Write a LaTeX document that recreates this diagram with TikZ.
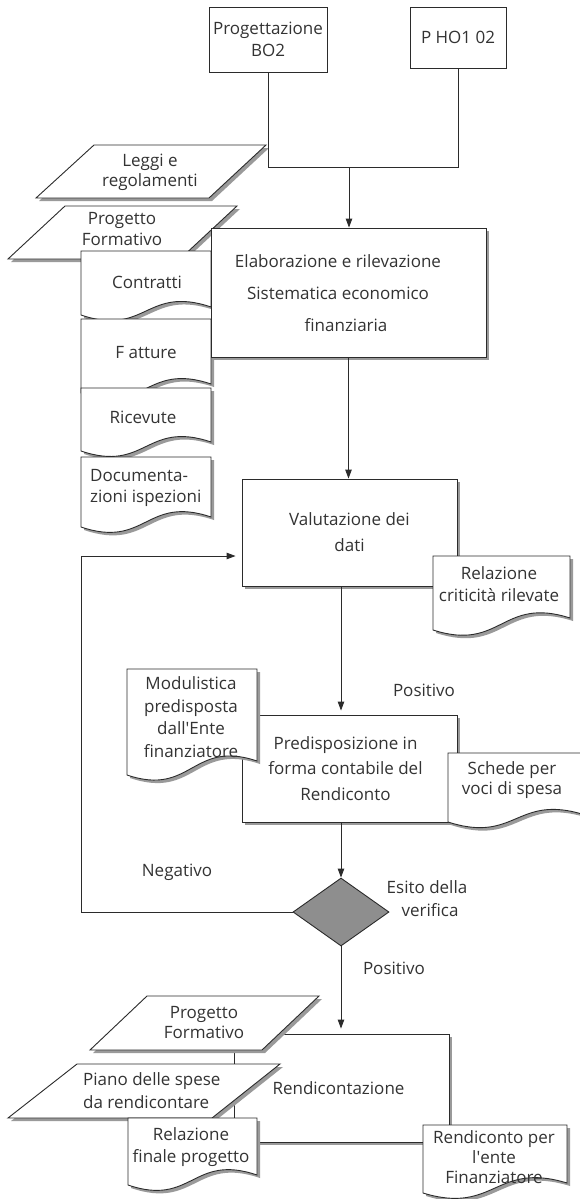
\documentclass[tikz,border=0pt]{standalone}
\usepackage{fontspec}
\setmainfont{Open Sans}
\usetikzlibrary{arrows.meta,shapes.geometric,shadows}
\definecolor{linec}{HTML}{2B2B2B}
\definecolor{txtc}{HTML}{333333}
\definecolor{shc}{HTML}{9A9A9A}
\definecolor{diac}{HTML}{8E8E8E}
\newcommand\lbf{\fontsize{17}{21}\selectfont}
\newcommand\docshape[5]{%
  \filldraw[docst] (#1,#3) -- (#2,#3) -- (#2,#5) .. controls ({(#1+#2)/2},{#5-22}) and ({(#1+#2)/2},{#4+22}) .. (#1,#4) -- cycle;}
\newcommand\parashape[6]{%
  \filldraw[docst] (#1,#3) -- (#2,#3) -- (#5,#6) -- (#4,#6) -- cycle;}
\tikzset{
  sh/.style={drop shadow={shadow xshift=3pt, shadow yshift=-3pt, opacity=1, fill=shc}},
  box/.style={rectangle, draw=linec, line width=0.9pt, fill=white, inner sep=0pt, text=txtc, align=center, font=\lbf},
  shbox/.style={box, sh},
  lbl/.style={text=txtc, align=center, inner sep=0pt, font=\lbf},
  docst/.style={draw=linec, line width=0.9pt, fill=white, sh},
  conn/.style={draw=linec, line width=0.9pt},
  arr/.style={conn, -{Triangle[length=9pt,width=6.5pt]}}
}
\begin{document}
\begin{tikzpicture}[x=1pt,y=-1pt]
\fill[white] (0,0) rectangle (579,1199);
\useasboundingbox (0,0) rectangle (579,1199);

% top boxes
\node[box, minimum width=118pt, minimum height=65pt, font=\fontsize{17}{22}\selectfont] (bo2) at (268,39.5) {Progettazione\\BO2};
\node[box, minimum width=96pt, minimum height=61pt] (pho) at (458,37.5) {P HO1 02};

% inputs to elaborazione
\parashape{94}{266}{145}{36}{209}{198}
\node[lbl, font=\fontsize{17}{20}\selectfont] (leggi) at (150,172) {Leggi e\\regolamenti};
\parashape{65}{237}{206}{8}{180}{259}
\node[lbl] (pf1) at (122,229.5) {Progetto\\Formativo};

\docshape{81}{211}{251}{315}{307}
\node[lbl] (contr) at (147,282) {Contratti};
\docshape{81}{211}{319}{393}{384}
\node[lbl] (fatt) at (146,353) {F atture};
\docshape{81}{211}{388}{451}{442}
\node[lbl] (ric) at (143,417) {Ricevute};
\docshape{81}{211}{457}{527}{517}
\node[lbl, align=left, anchor=west] (docisp) at (90,487.5) {Documenta-\\zioni ispezioni};

\node[shbox, minimum width=275pt, minimum height=129pt] (elab) at (348.5,292.5) {};
\node[lbl, font=\fontsize{17}{32}\selectfont] (elabt) at (338,293) {Elaborazione e rilevazione\\Sistematica economico\\\hspace*{16pt}finanziaria};

% valutazione
\node[shbox, minimum width=215pt, minimum height=107pt, font=\fontsize{17}{26}\selectfont] (val) at (349.5,532.5) {Valutazione dei\\dati};
\docshape{433}{570}{556}{630}{618}
\node[lbl, font=\fontsize{17}{22}\selectfont] (relcrit) at (499,584) {Relazione\\criticità rilevate};

% predisposizione
\node[shbox, minimum width=215pt, minimum height=107pt, font=\fontsize{17}{25.5}\selectfont] (pred) at (349.5,768.5) {\hspace*{-8pt}Predisposizione in\\\hspace*{-8pt}forma contabile del\\\hspace*{-8pt}Rendiconto};
\docshape{127}{257}{669}{775}{761}
\node[lbl, font=\fontsize{17}{22.6}\selectfont] (modul) at (191,717) {Modulistica\\predisposta\\dall\textquotesingle Ente\\finanziatore};
\docshape{448}{585}{753}{822}{815}
\node[lbl, font=\fontsize{17}{20}\selectfont] (schede) at (512,780) {Schede per\\voci di spesa};

% decision
\node[diamond, draw=linec, line width=0.9pt, fill=diac, minimum width=96pt, minimum height=68pt, inner sep=0pt] (dia) at (341,912) {};
\node[lbl] (pos1) at (424,690) {Positivo};
\node[lbl] (neg) at (177,872) {Negativo};
\node[lbl, font=\fontsize{17}{23}\selectfont] (esito) at (427,898.5) {Esito della\\\hspace*{6pt}verifica};
\node[lbl] (pos2) at (394,968) {Positivo};

% rendicontazione
\node[shbox, minimum width=215pt, minimum height=108pt] (rend) at (341.5,1088) {\hspace*{-6pt}Rendicontazione};
\parashape{147}{319}{996}{90}{262}{1050}
\node[lbl, font=\fontsize{17}{20}\selectfont] (pf2) at (204,1023) {Progetto\\Formativo};
\parashape{77}{280}{1064}{8}{212}{1118}
\node[lbl, align=left, anchor=west, font=\fontsize{17}{23}\selectfont] (piano) at (83,1090.5) {Piano delle spese\\da rendicontare};
\docshape{128}{257}{1118}{1185}{1175}
\node[lbl, font=\fontsize{17}{22}\selectfont] (relfin) at (191,1147) {Relazione\\finale progetto};
\docshape{423}{567}{1125}{1193}{1183}
\node[lbl, font=\fontsize{17}{20}\selectfont] (rendef) at (494,1157) {Rendiconto per\\l\textquotesingle ente\\Finanziatore};

% connectors
\coordinate (j) at (349,167);
\draw[conn] (bo2.south) |- (j);
\draw[conn] (pho.south) |- (j);
\draw[arr] (j) -- (j |- elab.north);
\draw[arr] (elab.south) -- (elab.south |- val.north);
\draw[arr, shorten >=4pt] (val.south -| dia.north) -- (pred.north -| dia.north);
\draw[arr] (pred.south -| dia.north) -- (dia.north);
\coordinate (fb) at (81,556);
\draw[conn] (dia.west) -| (fb);
\draw[arr, shorten >=6pt] (fb) -- (fb -| val.west);
\draw[arr, shorten >=5pt] (dia.south) -- (dia.south |- rend.north);
\end{tikzpicture}
\end{document}
